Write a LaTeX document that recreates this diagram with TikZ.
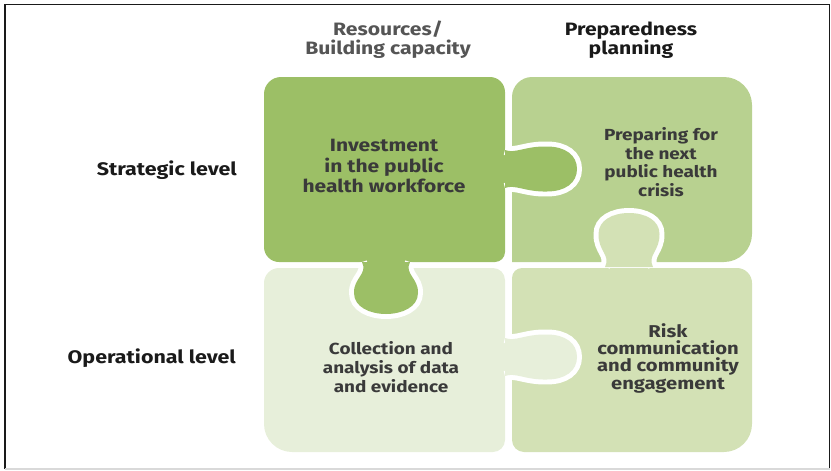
\documentclass[tikz,border=0pt]{standalone}
\usepackage{fontspec}
\setmainfont{Fira Sans}[FakeStretch=1.18]
\definecolor{leafdark}{HTML}{9CBF66}
\definecolor{leafmid}{HTML}{B8D190}
\definecolor{leafpale}{HTML}{E7EFDA}
\definecolor{leaflight}{HTML}{D3E1B5}
\definecolor{ink}{HTML}{1A1A1A}
\definecolor{slate}{HTML}{3A3A3A}
\definecolor{mutedgray}{HTML}{555555}
\definecolor{frameline}{HTML}{D9D9D9}

% rounded piece: x0 y0 x1 y1, then corner radii tl tr br bl
\newcommand{\piece}[8]{%
  ({#1+#5},#2) -- ({#3-#6},#2)
  .. controls ({#3-0.45*#6},#2) and (#3,{#2+0.45*#6}) .. (#3,{#2+#6})
  -- (#3,{#4-#7})
  .. controls (#3,{#4-0.45*#7}) and ({#3-0.45*#7},#4) .. ({#3-#7},#4)
  -- ({#1+#8},#4)
  .. controls ({#1+0.45*#8},#4) and (#1,{#4-0.45*#8}) .. (#1,{#4-#8})
  -- (#1,{#2+#5})
  .. controls (#1,{#2+0.45*#5}) and ({#1+0.45*#5},#2) .. ({#1+#5},#2) -- cycle}
% knob to the right: base x, centre y
\newcommand{\htab}[2]{%
  (#1,{#2-19}) .. controls ({#1+10},{#2-15}) and ({#1+20},{#2-23}) .. ({#1+42},{#2-22.5})
  .. controls ({#1+60},{#2-22.5}) and ({#1+72},{#2-14}) .. ({#1+72},#2)
  .. controls ({#1+72},{#2+14}) and ({#1+60},{#2+22.5}) .. ({#1+42},{#2+22.5})
  .. controls ({#1+20},{#2+23}) and ({#1+10},{#2+15}) .. (#1,{#2+19})}
% knob up (-1) or down (1): centre x, base y, sign, half width, length
\newcommand{\vtab}[5]{%
  ({#1-24},#2) .. controls ({#1-18},{#2+(#3)*12}) and ({#1-#4-0.5},{#2+(#3)*16}) .. ({#1-#4},{#2+(#3)*(#5-21)})
  .. controls ({#1-#4},{#2+(#3)*(#5-7)}) and ({#1-16},{#2+(#3)*#5}) .. (#1,{#2+(#3)*#5})
  .. controls ({#1+16},{#2+(#3)*#5}) and ({#1+#4},{#2+(#3)*(#5-7)}) .. ({#1+#4},{#2+(#3)*(#5-21)})
  .. controls ({#1+#4+0.5},{#2+(#3)*16}) and ({#1+18},{#2+(#3)*12}) .. ({#1+24},#2)}

\begin{document}
\begin{tikzpicture}[x=0.03cm,y=-0.03cm,
    ring/.style={draw=white,line width=8.5pt},
    bigtext/.style={font=\bfseries\fontsize{15.2}{17.9}\selectfont,text=slate,align=center,inner sep=0pt},
    piecetext/.style={font=\bfseries\fontsize{13.7}{15.9}\selectfont,text=slate,align=center,inner sep=0pt},
    colhead/.style={font=\bfseries\fontsize{15.3}{16.2}\selectfont,align=center,inner sep=0pt},
    rowlabel/.style={font=\bfseries\fontsize{15.5}{17}\selectfont,text=ink,anchor=east,inner sep=0pt}]
  \useasboundingbox (0,0) rectangle (831,470);
  % frame
  \draw[ink,line width=1pt] (5,469) -- (5,4.5) -- (829.5,4.5) -- (829.5,469);
  \draw[frameline,line width=1pt] (5,469) -- (829.5,469);

  % the four pieces
  \fill[leafdark]  \piece{264}{77}{505}{262}{17}{15}{10}{15};
  \fill[leafmid]   \piece{512}{77}{752}{262}{20}{28}{28}{0};
  \fill[leafpale]  \piece{264}{268}{505}{452}{15}{12}{12}{28};
  \fill[leaflight] \piece{512}{268}{752}{452}{10}{15}{28}{12};

  % knobs: white gap first, then the fill
  \draw[ring] \htab{505}{169};
  \fill[leafdark] \htab{505}{169} -- cycle;
  \draw[ring] \vtab{386}{262}{1}{32}{52};
  \fill[leafdark] \vtab{386}{262}{1}{32}{52} -- cycle;
  \draw[ring] \vtab{629}{267}{-1}{30.5}{54};
  \fill[leaflight] \vtab{629}{267}{-1}{30.5}{54} -- cycle;
  \draw[ring] \htab{505}{357};
  \fill[leafpale] \htab{505}{357} -- cycle;

  % headings
  \node[colhead,text=mutedgray] (hdrres) at (388,40) {Resources/\\Building capacity};
  \node[colhead,text=ink] (hdrprep) at (631,40) {Preparedness\\planning};
  \node[rowlabel] (strat) at (237,170) {Strategic level};
  \node[rowlabel] (oper) at (236,358) {Operational level};

  % piece texts
  \node[bigtext] (invest) at (384,166) {Investment\\in the public\\health workforce};
  \node[piecetext] (prep) at (661,162) {Preparing for\\the next\\public health\\crisis};
  \node[piecetext] (collect) at (391,367) {Collection and\\analysis of data\\and evidence};
  \node[piecetext,font=\bfseries\fontsize{14.6}{14.8}\selectfont] (risk) at (668,358) {Risk\\communication\\and community\\engagement};
\end{tikzpicture}
\end{document}
